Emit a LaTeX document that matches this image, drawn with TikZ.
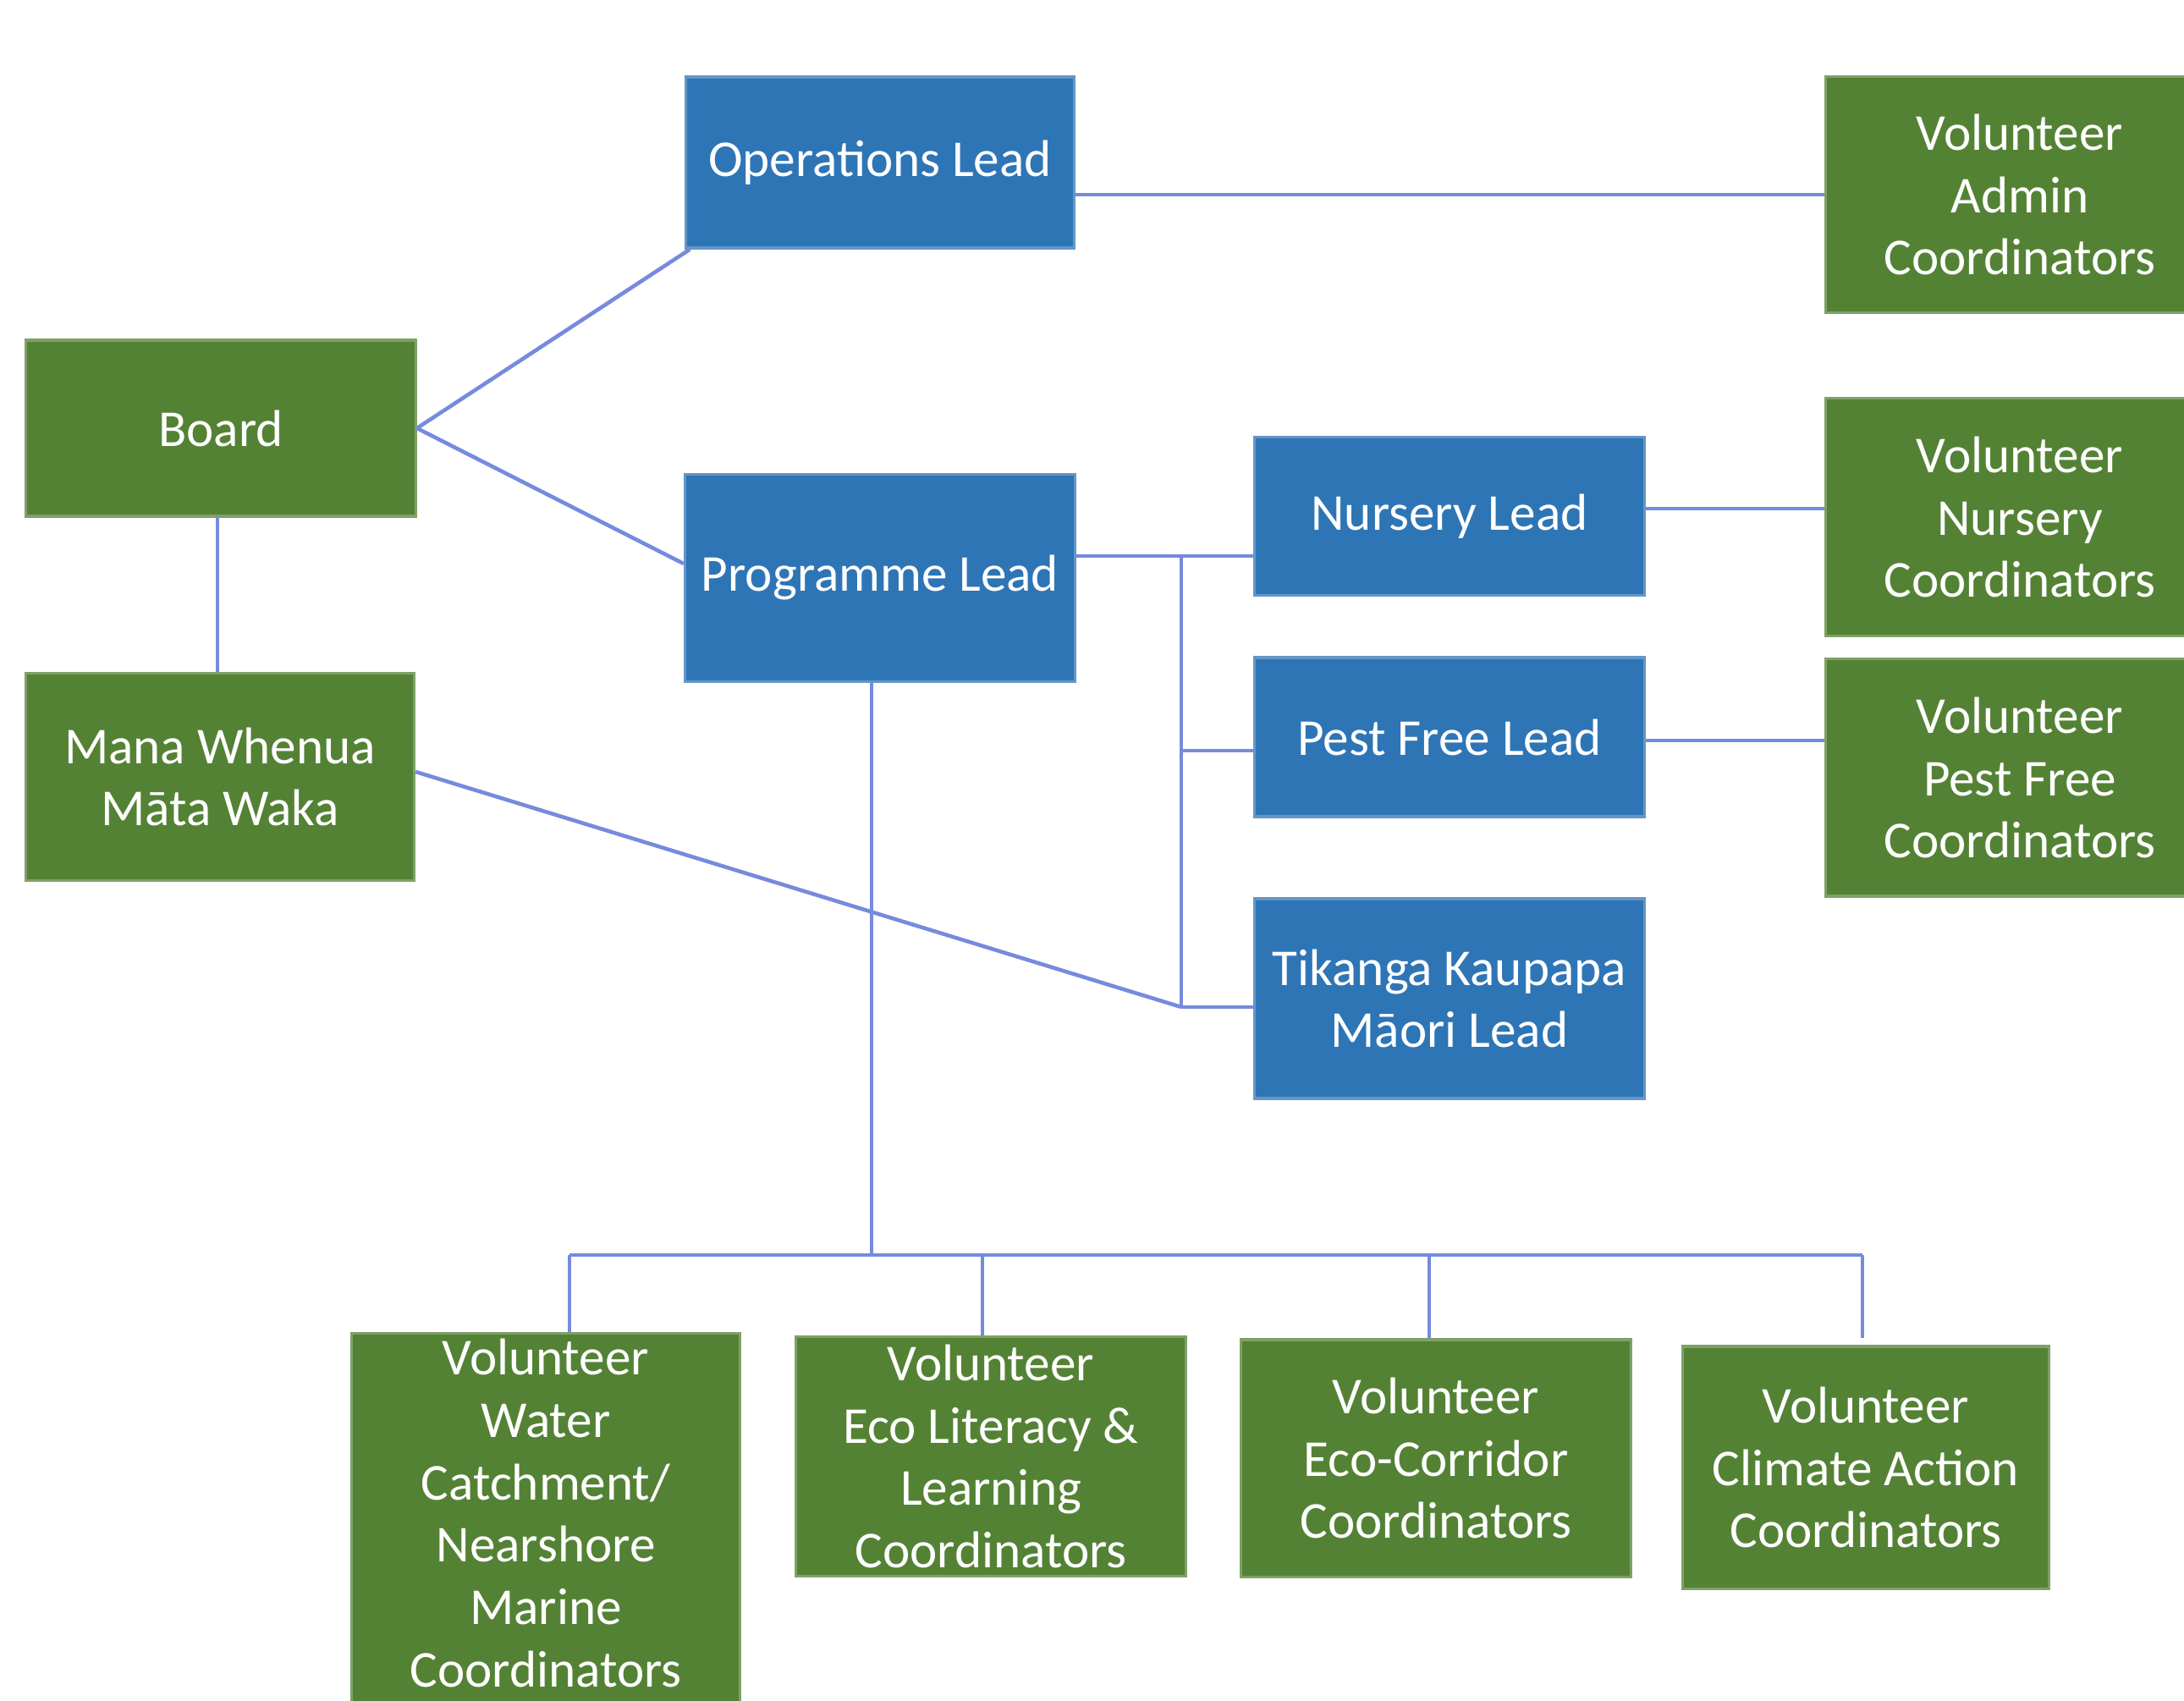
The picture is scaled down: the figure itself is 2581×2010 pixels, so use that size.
\documentclass[tikz,border=0pt]{standalone}
\usepackage{fontspec}
\setmainfont{Carlito}
\definecolor{boxgreen}{RGB}{84,130,53}
\definecolor{boxblue}{RGB}{46,117,182}
\definecolor{linkc}{RGB}{118,138,222}
\begin{document}
\begin{tikzpicture}[x=0.01cm,y=-0.01cm,
  base/.style={rectangle,inner sep=0pt,align=center,text=white,
    font=\fontsize{17.4pt}{21pt}\selectfont,line width=0.9pt},
  gbox/.style={base,fill=boxgreen,draw=boxgreen!75!white},
  bbox/.style={base,fill=boxblue,draw=boxblue!75!white},
  conn/.style={draw=linkc,line width=1.3pt}]
\useasboundingbox (0,0) rectangle (2581,2010);
\fill[white] (0,0) rectangle (2581,2010);
% top / left
\node[bbox,minimum width=4.58cm,minimum height=2.02cm] (ops) at (1040,192) {Operations Lead};
\node[gbox,minimum width=4.58cm,minimum height=2.79cm] (vadmin) at (2387,230) {Volunteer\\Admin\\Coordinators};
\node[gbox,minimum width=4.60cm,minimum height=2.08cm] (board) at (261,506) {Board};
\node[gbox,minimum width=4.59cm,minimum height=2.45cm] (mana) at (260,918) {Mana Whenua\\Māta Waka};
\node[bbox,minimum width=4.61cm,minimum height=2.45cm] (prog) at (1040,683) {Programme Lead};
% leads
\node[bbox,minimum width=4.61cm,minimum height=1.87cm] (nursery) at (1713,610) {Nursery Lead};
\node[bbox,minimum width=4.61cm,minimum height=1.88cm] (pest) at (1713,871) {Pest Free Lead};
\node[bbox,minimum width=4.61cm,minimum height=2.36cm] (tikanga) at (1713,1180) {Tikanga Kaupapa\\Māori Lead};
\node[gbox,minimum width=4.58cm,minimum height=2.81cm] (vnursery) at (2387,611) {Volunteer\\Nursery\\Coordinators};
\node[gbox,minimum width=4.58cm,minimum height=2.80cm] (vpest) at (2387,919) {Volunteer\\Pest Free\\Coordinators};
% bottom row
\node[gbox,minimum width=4.59cm,minimum height=4.45cm] (water) at (645,1798) {};
\node[font=\fontsize{17.4pt}{21pt}\selectfont,text=white,align=center,inner sep=0pt] (watertext) at (645,1788) {Volunteer\\Water\\Catchment/\\Nearshore\\Marine\\Coordinators};
\node[gbox,minimum width=4.60cm,minimum height=2.83cm] (ecolit) at (1171,1721) {Volunteer\\Eco Literacy \&\\Learning\\Coordinators};
\node[gbox,minimum width=4.60cm,minimum height=2.80cm] (ecocorr) at (1697,1723) {Volunteer\\Eco-Corridor\\Coordinators};
\node[gbox,minimum width=4.32cm,minimum height=2.86cm] (climate) at (2205,1734) {Volunteer\\Climate Action\\Coordinators};
% junction coordinates
\coordinate (j1) at (1396,657);
\coordinate (j2) at (1396,887);
\coordinate (j3) at (1396,1190);
\coordinate (bus) at (1030,1483);
\coordinate (busL) at (673,1483);
\coordinate (busR) at (2201,1483);
\coordinate (dLit) at (1161,1483);
\coordinate (dCorr) at (1689,1483);
% connectors
\draw[conn] (board.east) -- ([xshift=0.06cm]ops.south west);
\draw[conn] (board.east) -- ([yshift=0.17cm]prog.west);
\draw[conn] ([xshift=-0.04cm]board.south) -- ([xshift=-0.03cm]mana.north);
\draw[conn] ([yshift=0.06cm]mana.east) -- (j3);
\draw[conn] (vadmin.west -| ops.east) -- (vadmin.west);
\draw[conn] (prog.east |- j1) -- (j1) -- (j1 -| nursery.west);
\draw[conn] (j1) -- (j3);
\draw[conn] (j2) -- (j2 -| pest.west);
\draw[conn] (j3) -- (j3 -| tikanga.west);
\draw[conn] ([yshift=0.09cm]nursery.east) -- ([yshift=0.09cm]nursery.east -| vnursery.west);
\draw[conn] ([yshift=-0.04cm]pest.east) -- ([yshift=-0.04cm]pest.east -| vpest.west);
\draw[conn] (prog.south -| bus) -- (bus);
\draw[conn] (busL) -- (busR);
\draw[conn] (busL) -- (busL |- water.north);
\draw[conn] (dLit) -- (dLit |- ecolit.north);
\draw[conn] (dCorr) -- (dCorr |- ecocorr.north);
\draw[conn] (busR) -- ([yshift=0.08cm]busR |- climate.north);
\end{tikzpicture}
\end{document}
